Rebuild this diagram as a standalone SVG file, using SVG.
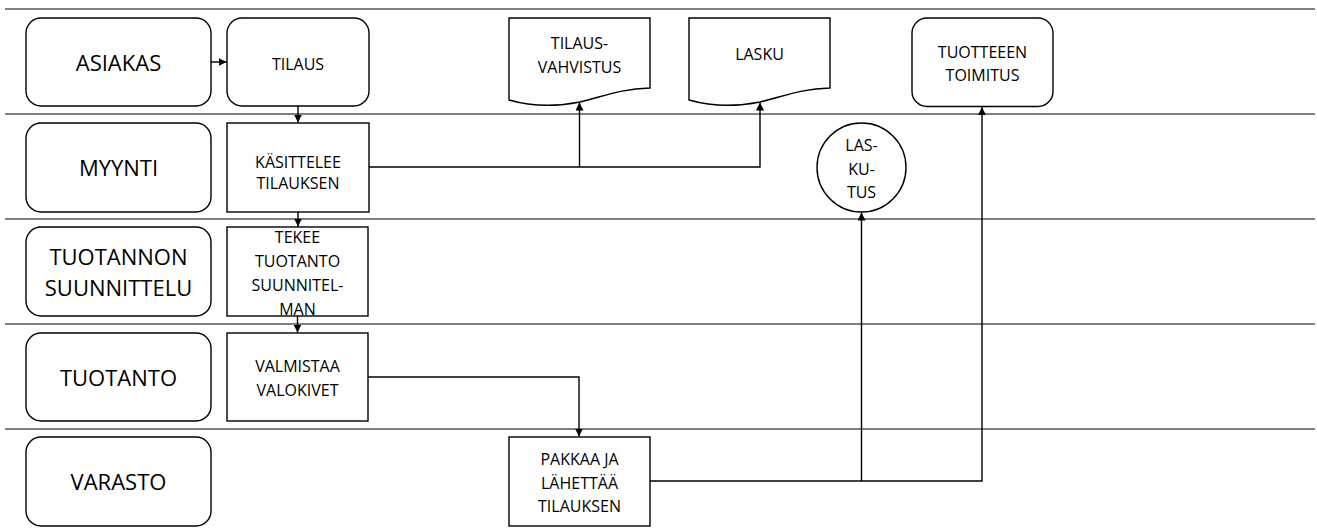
<svg xmlns="http://www.w3.org/2000/svg" width="1317" height="528" viewBox="0 0 1317 528">
  <style>
    .lane { stroke: #000; stroke-width: 1.2; }
    .box { fill: #fff; stroke: #000; stroke-width: 1.4; }
    .wire { fill: none; stroke: #000; stroke-width: 1.4; }
    text { font-family: "Open Sans", "Liberation Sans", sans-serif; fill: #000; text-anchor: middle; }
    .big { font-size: 22px; }
    .small { font-size: 16px; }
  </style>
  <defs>
    <marker id="arrow" markerUnits="userSpaceOnUse" markerWidth="9" markerHeight="8" refX="8" refY="4" orient="auto">
      <path d="M0,0 L8,4 L0,8 z" fill="#000"/>
    </marker>
  </defs>

  <!-- swimlane separators -->
  <g id="lanes">
    <line class="lane" x1="5" y1="9" x2="1315" y2="9" stroke="#444"/>
    <line class="lane" x1="5" y1="114" x2="1315" y2="114"/>
    <line class="lane" x1="5" y1="219" x2="1315" y2="219"/>
    <line class="lane" x1="5" y1="324" x2="1315" y2="324"/>
    <line class="lane" x1="5" y1="429" x2="1315" y2="429"/>
  </g>

  <!-- lane titles -->
  <g id="lane-asiakas">
    <rect class="box" x="26" y="18" width="185" height="88" rx="15"/>
    <text class="big" x="118.5" y="70.5">ASIAKAS</text>
  </g>
  <g id="lane-myynti">
    <rect class="box" x="26" y="123" width="185" height="89" rx="15"/>
    <text class="big" x="118.5" y="176">MYYNTI</text>
  </g>
  <g id="lane-suunnittelu">
    <rect class="box" x="26" y="227" width="185" height="89" rx="15"/>
    <text class="big" x="118.5" y="264.5">TUOTANNON</text>
    <text class="big" x="118.5" y="296">SUUNNITTELU</text>
  </g>
  <g id="lane-tuotanto">
    <rect class="box" x="26" y="333" width="185" height="88" rx="15"/>
    <text class="big" x="118.5" y="386">TUOTANTO</text>
  </g>
  <g id="lane-varasto">
    <rect class="box" x="26" y="437" width="185" height="89" rx="15"/>
    <text class="big" x="118.5" y="489.5">VARASTO</text>
  </g>

  <!-- process steps -->
  <g id="tilaus">
    <rect class="box" x="227" y="18" width="142" height="88" rx="15"/>
    <text class="small" x="298" y="70">TILAUS</text>
  </g>
  <g id="kasittelee">
    <rect class="box" x="227" y="123" width="142" height="89"/>
    <text class="small" x="298" y="168">KÄSITTELEE</text>
    <text class="small" x="298" y="188.5">TILAUKSEN</text>
  </g>
  <g id="tekee">
    <rect class="box" x="227" y="227" width="141" height="89"/>
    <text class="small" x="297.5" y="243">TEKEE</text>
    <text class="small" x="297.5" y="267">TUOTANTO</text>
    <text class="small" x="297.5" y="291">SUUNNITEL-</text>
    <text class="small" x="297.5" y="315">MAN</text>
  </g>
  <g id="valmistaa">
    <rect class="box" x="227" y="333" width="141" height="88"/>
    <text class="small" x="297.5" y="372">VALMISTAA</text>
    <text class="small" x="297.5" y="395.5">VALOKIVET</text>
  </g>
  <g id="pakkaa">
    <rect class="box" x="509" y="437" width="141" height="89"/>
    <text class="small" x="579.5" y="465">PAKKAA JA</text>
    <text class="small" x="579.5" y="488.5">LÄHETTÄÄ</text>
    <text class="small" x="579.5" y="512">TILAUKSEN</text>
  </g>
  <g id="tilausvahvistus">
    <path class="box" d="M509,18 H650 V88 C620,89 605,96 580,102 C555,107 530,106 509,100 Z"/>
    <text class="small" x="579.5" y="48.5">TILAUS-</text>
    <text class="small" x="579.5" y="73">VAHVISTUS</text>
  </g>
  <g id="lasku">
    <path class="box" d="M689,18 H830 V88 C800,89 785,96 760,102 C735,107 710,106 689,100 Z"/>
    <text class="small" x="759.5" y="60">LASKU</text>
  </g>
  <g id="laskutus">
    <circle class="box" cx="861.5" cy="167.5" r="44.5"/>
    <text class="small" x="861.5" y="151">LAS-</text>
    <text class="small" x="861.5" y="175">KU-</text>
    <text class="small" x="861.5" y="198">TUS</text>
  </g>
  <g id="toimitus">
    <rect class="box" x="912" y="18" width="141" height="88.5" rx="15"/>
    <text class="small" x="982.5" y="57.5">TUOTTEEEN</text>
    <text class="small" x="982.5" y="81">TOIMITUS</text>
  </g>

  <!-- flow connectors -->
  <g id="connectors">
    <path class="wire" d="M211,62 H226.5" marker-end="url(#arrow)"/>
    <path class="wire" d="M298,106 V122.5" marker-end="url(#arrow)"/>
    <path class="wire" d="M298,212 V226.5" marker-end="url(#arrow)"/>
    <path class="wire" d="M297.5,316 V332.5" marker-end="url(#arrow)"/>
    <path class="wire" d="M369,167 H760 V102.5" marker-end="url(#arrow)"/>
    <path class="wire" d="M579.5,167 V102.5" marker-end="url(#arrow)"/>
    <path class="wire" d="M368,377 H579 V436.5" marker-end="url(#arrow)"/>
    <path class="wire" d="M650,481 H982 V107" marker-end="url(#arrow)"/>
    <path class="wire" d="M861.5,481 V212.5" marker-end="url(#arrow)"/>
  </g>
</svg>
